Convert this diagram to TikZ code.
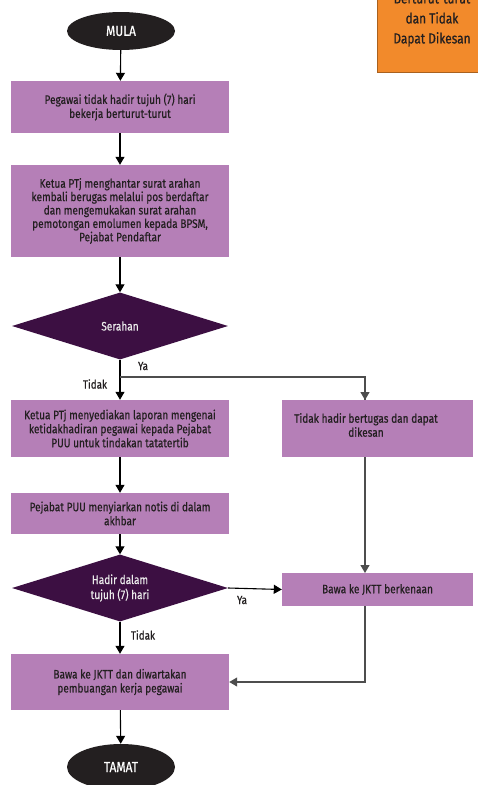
\documentclass[tikz,border=0pt]{standalone}
\usepackage{fontspec}
\setmainfont{Fira Sans}[FakeStretch=0.82,FakeBold=0.5]
\usetikzlibrary{shapes.geometric,arrows.meta}
\definecolor{boxc}{HTML}{B57FB7}
\definecolor{diac}{HTML}{3C0F42}
\definecolor{ellc}{HTML}{231F20}
\definecolor{orc}{HTML}{F28A2B}
\definecolor{txt}{HTML}{231F20}
\definecolor{grl}{HTML}{4D4D4D}
\begin{document}
\begin{tikzpicture}[x=1pt,y=-1pt,
  box/.style={fill=boxc, draw=none, minimum width=218pt, align=center, inner sep=0pt,
    text=txt, font=\fontsize{12.3}{14}\selectfont},
  rbox/.style={box, minimum width=191pt},
  dia/.style={diamond, aspect=3.2, fill=diac, draw=none, minimum width=216pt, minimum height=67pt,
    inner sep=0pt, align=center, text=white!92!black, font=\fontsize{12.3}{15}\selectfont},
  ell/.style={ellipse, fill=ellc, draw=none, minimum width=108pt, inner sep=0pt,
    text=white, font=\fontsize{14.5}{16}\selectfont},
  lbl/.style={text=txt, font=\fontsize{12}{14}\selectfont, inner sep=0pt},
  arr/.style={line width=1.1pt, draw=black, -{Triangle[width=9pt,length=8pt]}},
  garr/.style={line width=1.1pt, draw=grl, -{Triangle[width=9pt,length=8pt]}},
  gline/.style={line width=1.1pt, draw=grl}
]
\useasboundingbox (0,0) rectangle (477,785);
\fill[white] (0,0) rectangle (477,785);

% orange note box
\path[fill=orc, draw=orc!70!black, line width=0.6pt] (377,-30) rectangle (490,72);
\node[lbl, align=center, font=\fontsize{14.5}{20}\selectfont] (note) at (432,20)
  {Berturut-turut\\dan Tidak\\Dapat Dikesan};

\node[ell, minimum height=38pt] (mula) at (121,31) {MULA};
\node[box, minimum height=52pt] (b1) at (120,107)
  {Pegawai tidak hadir tujuh (7) hari\\bekerja berturut-turut};
\node[box, minimum height=92pt, font=\fontsize{12.3}{13.4}\selectfont] (b2) at (120,211)
  {Ketua PTj menghantar surat arahan\\kembali berugas melalui pos berdaftar\\dan mengemukakan surat arahan\\pemotongan emolumen kepada BPSM,\\Pejabat Pendaftar};
\node[dia] (d1) at (120,326) {Serahan};
\node[box, minimum height=57pt] (b3) at (120,428.5)
  {Ketua PTj menyediakan laporan mengenai\\ketidakhadiran pegawai kepada Pejabat\\PUU untuk tindakan tatatertib};
\node[rbox, minimum height=57pt] (b4) at (377.5,428.5) {};
\node[lbl, align=center, font=\fontsize{12.3}{14}\selectfont] (b4t) at (366,425)
  {Tidak hadir bertugas dan dapat\\dikesan};
\node[box, minimum height=41pt] (b5p) at (120,513.5)
  {Pejabat PUU menyiarkan notis di dalam\\akhbar};
\node[dia] (d2) at (120,588) {Hadir dalam\\tujuh (7) hari};
\node[rbox, minimum height=33pt] (b5) at (377.5,589.5) {Bawa ke JKTT berkenaan};
\node[box, minimum height=56pt] (b6) at (120,682)
  {Bawa ke JKTT dan diwartakan\\pembuangan kerja pegawai};
\node[ell, minimum height=46pt] (tamat) at (121,767) {TAMAT};

\coordinate (split) at (120,377);
\coordinate (b4in) at (365,400);
\coordinate (b4out) at (365,457);
\coordinate (b5in) at (365,573);
\coordinate (b5out) at (365,606);

\draw[arr] (mula) -- (b1);
\draw[arr] (b1) -- (b2);
\draw[arr] (b2) -- (d1);
\draw[arr] (d1) -- (b3);
\draw[gline] (split) -| (b4in);
\draw[garr] (split -| b4in) -- (b4in);
\draw[arr] (b3) -- (b5p);
\draw[arr] (b5p) -- (d2);
\draw[arr] (d2.east) -- (b5.west);
\draw[arr] (d2) -- (b6);
\draw[garr] (b4out) -- (b5in);
\draw[garr] (b5out) |- (b6.east);
\draw[arr] (b6) -- (tamat);

\node[lbl] (ya1) at (143,366) {Ya};
\node[lbl] (tidak1) at (95,384) {Tidak};
\node[lbl] (ya2) at (242,600) {Ya};
\node[lbl] (tidak2) at (143,635) {Tidak};
\end{tikzpicture}
\end{document}
